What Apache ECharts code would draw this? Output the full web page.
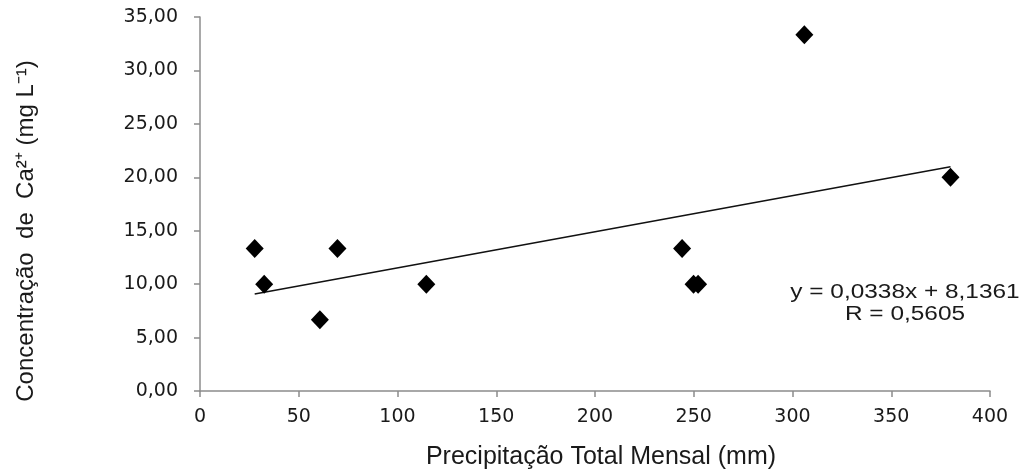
<!DOCTYPE html>
<html>
<head>
<meta charset="utf-8">
<script src="https://cdn.jsdelivr.net/npm/echarts@6/dist/echarts.min.js"></script>
<style>
html, body { margin: 0; padding: 0; background: #fff; }
#chart { width: 1031px; height: 476px; }
</style>
</head>
<body>
<div id="chart"></div>
<script>
// dados
var precip = [27.7, 32.5, 60.7, 69.6, 114.6, 244.1, 249.9, 252.2, 306, 380];
var calcio = [13.33, 10.0, 6.67, 13.33, 10.0, 13.33, 10.0, 10.0, 33.33, 20.0];
var coefA = 0.0338, coefB = 8.1361; // y = a x + b
var eqText = ['y = 0,0338x + 8,1361', 'R = 0,5605'];

var pontos = precip.map(function(x, i) { return [x, calcio[i]]; });
var xMin = Math.min.apply(null, precip), xMax = Math.max.apply(null, precip);
var tendencia = [[xMin, coefA * xMin + coefB], [xMax, coefA * xMax + coefB]];

var myChart = echarts.init(document.getElementById('chart'));
var corEixo = { color: '#8c8c8c', width: 1.5 };
var option = {
    animation: false,
    grid: { left: 200, right: 41, top: 17, bottom: 85 },
    xAxis: {
        type: 'value', min: 0, max: 400, interval: 50,
        name: 'Precipitação Total Mensal (mm)',
        nameLocation: 'middle', nameGap: 54,
        nameTextStyle: { fontFamily: 'Liberation Sans', fontSize: 25, color: '#1a1a1a', padding: [0, 0, 0, 12] },
        axisLine: { show: true, lineStyle: corEixo },
        axisTick: { show: true, length: 6, lineStyle: corEixo },
        splitLine: { show: false },
        axisLabel: { margin: 17, fontFamily: 'DejaVu Sans', fontSize: 19, color: '#1a1a1a' }
    },
    yAxis: {
        type: 'value', min: 0, max: 35, interval: 5,
        name: 'Concentração  de  Ca²⁺ (mg L⁻¹)',
        nameLocation: 'middle', nameGap: 162,
        nameTextStyle: { fontFamily: 'Liberation Sans', fontSize: 24, color: '#1a1a1a', padding: [0, 54, 0, 0] },
        axisLine: { show: true, lineStyle: corEixo },
        axisTick: { show: true, length: 6, lineStyle: corEixo },
        splitLine: { show: false },
        axisLabel: {
            margin: 22, fontFamily: 'DejaVu Sans', fontSize: 19, color: '#1a1a1a',
            formatter: function(v) { return v.toFixed(2).replace('.', ','); }
        }
    },
    series: [
        {
            type: 'line',
            data: tendencia,
            symbol: 'none',
            lineStyle: { color: '#111', width: 1.5 },
            z: 1
        },
        {
            type: 'scatter',
            data: pontos,
            symbol: 'diamond',
            symbolSize: [18, 19],
            itemStyle: { color: '#000', opacity: 1 },
            z: 2
        }
    ],
    graphic: [
        {
            type: 'text', x: 905, y: 281, scaleX: 1.22,
            style: {
                text: eqText.join('\n'), textAlign: 'center', textVerticalAlign: 'top',
                fontFamily: 'Liberation Sans', fontSize: 20, lineHeight: 22, fill: '#1a1a1a'
            }
        }
    ]
};
myChart.setOption(option);
</script>
</body>
</html>
